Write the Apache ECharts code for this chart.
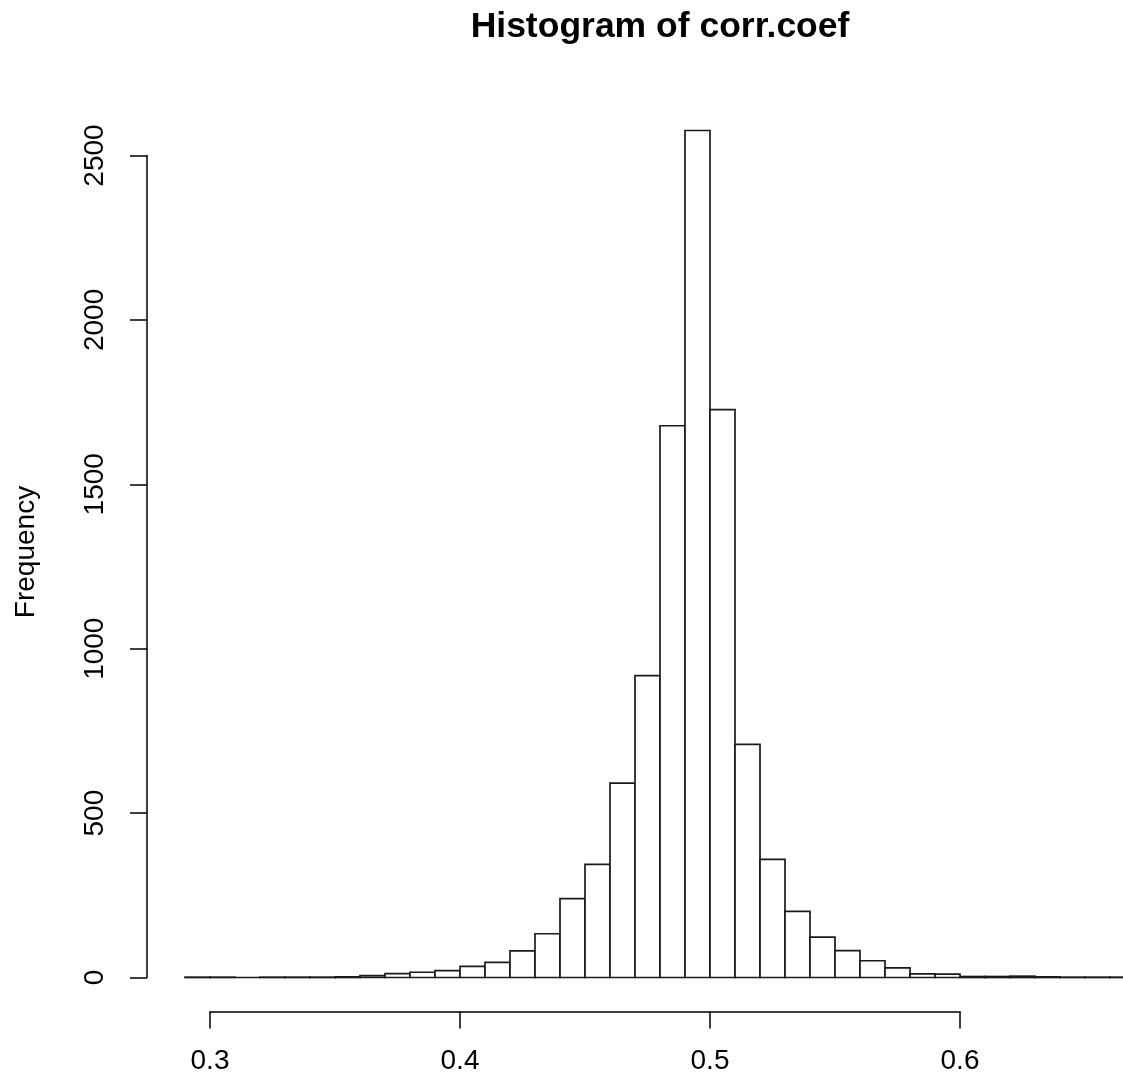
<!DOCTYPE html>
<html>
<head>
<meta charset="utf-8">
<title>Histogram of corr.coef</title>
<script src="https://cdn.jsdelivr.net/npm/echarts@6/dist/echarts.min.js"></script>
<style>
  html, body { margin: 0; padding: 0; background: #fff; }
  #main { width: 1123px; height: 1078px; }
</style>
</head>
<body>
<div id="main"></div>
<script>
// bin left edges (width 0.01) and counts
const binStarts = [0.29, 0.30, 0.31, 0.32, 0.33, 0.34, 0.35, 0.36, 0.37, 0.38,
                   0.39, 0.40, 0.41, 0.42, 0.43, 0.44, 0.45, 0.46, 0.47, 0.48,
                   0.49, 0.50, 0.51, 0.52, 0.53, 0.54, 0.55, 0.56, 0.57, 0.58,
                   0.59, 0.60, 0.61, 0.62, 0.63, 0.64, 0.65, 0.66];
const counts = [1, 1, 0, 1, 1, 1, 2, 6, 12, 16,
                21, 34, 46, 81, 133, 240, 344, 591, 918, 1678,
                2576, 1727, 709, 359, 201, 123, 82, 51, 29, 11,
                10, 3, 3, 4, 2, 1, 1, 1];
const binWidth = 0.01;
const xTicks = [0.3, 0.4, 0.5, 0.6];
const yTicks = [0, 500, 1000, 1500, 2000, 2500];

const chart = echarts.init(document.getElementById('main'));
const font = '"Liberation Sans", Arial, Helvetica, sans-serif';

const barData = binStarts.map((s, i) => [s, s + binWidth, counts[i]]);

chart.setOption({
    backgroundColor: '#fff',
    animation: false,
    graphic: [
        {
            type: 'text',
            x: 660, y: 9,
            style: {
                text: 'Histogram of corr.coef',
                font: 'bold 35.5px ' + font,
                fill: '#000',
                textAlign: 'center',
                textVerticalAlign: 'top'
            }
        },
        {
            type: 'text',
            x: 26, y: 552,
            rotation: Math.PI / 2,
            style: {
                text: 'Frequency',
                font: '28px ' + font,
                fill: '#000',
                textAlign: 'center',
                textVerticalAlign: 'middle'
            }
        }
    ],
    grid: {
        left: 210,
        right: 163,
        top: 155.5,
        bottom: 100.5
    },
    xAxis: {
        type: 'value',
        min: xTicks[0],
        max: xTicks[xTicks.length - 1],
        interval: 0.1,
        offset: 34,
        splitLine: { show: false },
        axisLine: { show: true, onZero: false, lineStyle: { color: '#000', width: 1.5 } },
        axisTick: { show: true, length: 17, lineStyle: { color: '#000', width: 1.5 } },
        axisLabel: {
            margin: 36,
            fontSize: 28,
            fontFamily: font,
            color: '#000',
            formatter: v => v.toFixed(1)
        }
    },
    yAxis: {
        type: 'value',
        min: yTicks[0],
        max: yTicks[yTicks.length - 1],
        interval: 500,
        offset: 63,
        splitLine: { show: false },
        axisLine: { show: true, onZero: false, lineStyle: { color: '#000', width: 1.5 } },
        axisTick: { show: true, length: 17, lineStyle: { color: '#000', width: 1.5 } },
        axisLabel: {
            rotate: 90,
            margin: 38,
            fontSize: 28,
            fontFamily: font,
            color: '#000',
            formatter: v => String(v)
        }
    },
    series: [{
        type: 'custom',
        data: barData,
        encode: { x: [0, 1], y: 2 },
        renderItem: function (params, api) {
            const topLeft = api.coord([api.value(0), api.value(2)]);
            const botRight = api.coord([api.value(1), 0]);
            return {
                type: 'rect',
                shape: {
                    x: topLeft[0],
                    y: topLeft[1],
                    width: botRight[0] - topLeft[0],
                    height: botRight[1] - topLeft[1]
                },
                style: { fill: '#fff', stroke: '#1a1a1a', lineWidth: 1.7 }
            };
        }
    }]
});
</script>
</body>
</html>
